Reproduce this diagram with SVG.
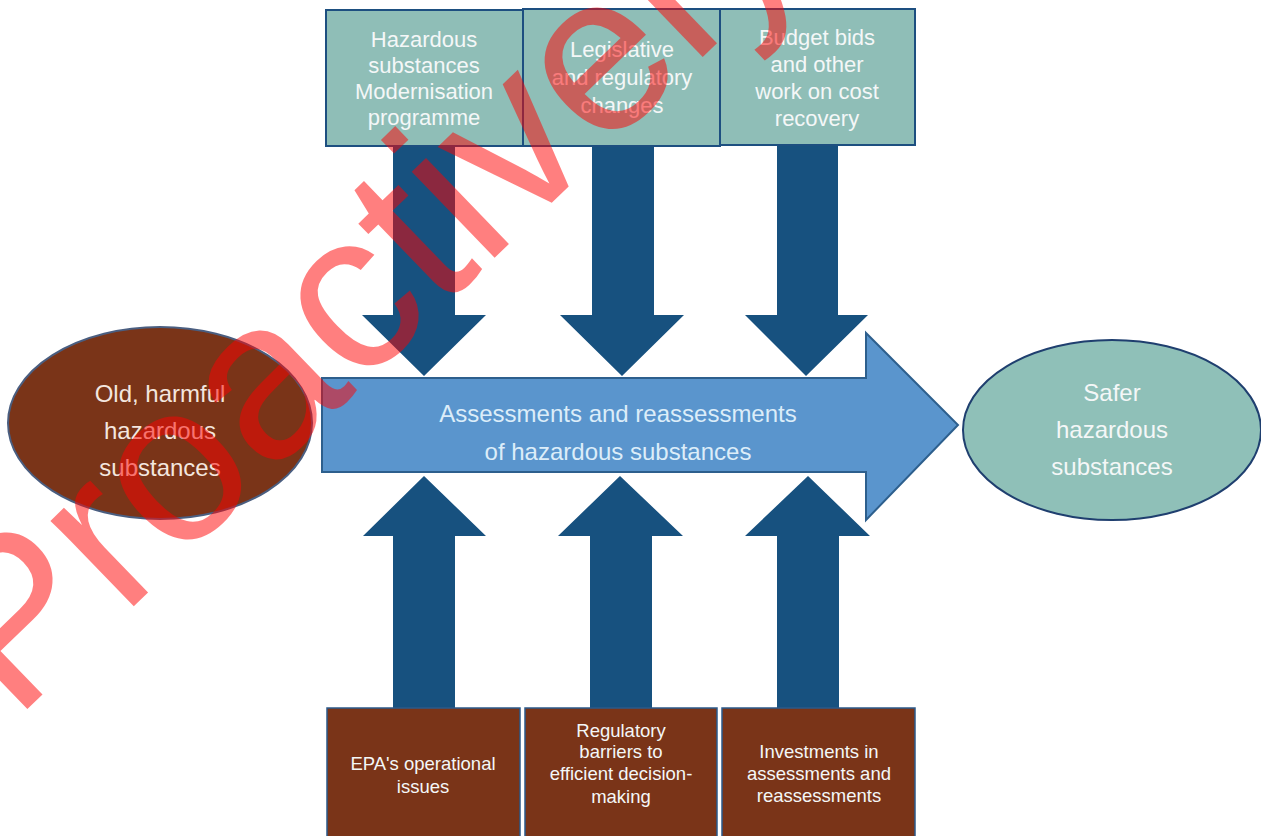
<svg xmlns="http://www.w3.org/2000/svg" width="1261" height="836" viewBox="0 0 1261 836">
<style>
.top{fill:#8fbeb7;stroke:#1d4f80;stroke-width:2}
.bot{fill:#7a3418;stroke:#2b5a8a;stroke-width:1.5}
.arr{fill:#17517f}
.t{font-family:"Liberation Sans",Arial,sans-serif;text-anchor:middle;fill:#f4f7f7}
.s22{font-size:22px}
.s24{font-size:24px}
.s19{font-size:18.5px}
.wm{font-family:"Liberation Sans",Arial,sans-serif;font-size:226px;fill:#ff0000;fill-opacity:0.5}
</style>
<rect width="1261" height="836" fill="#ffffff"/>
<g id="connectors">
<polygon class="arr" points="393,146 455,146 455,315 486,315 424,376 362,315 393,315"/>
<polygon class="arr" points="592,146 654,146 654,315 684,315 622,376 560,315 592,315"/>
<polygon class="arr" points="777,146 838,146 838,315 868,315 806,376 745,315 777,315"/>
<polygon class="arr" points="393,708 455,708 455,536 486,536 424,476 363,536 393,536"/>
<polygon class="arr" points="590,708 652,708 652,536 683,536 620,476 558,536 590,536"/>
<polygon class="arr" points="777,708 839,708 839,536 870,536 808,476 745,536 777,536"/>
</g>
<g id="top1">
<rect class="top" x="326" y="10" width="197" height="136"/>
<text class="t s22" x="424"><tspan x="424" y="47">Hazardous</tspan><tspan x="424" y="73">substances</tspan><tspan x="424" y="99">Modernisation</tspan><tspan x="424" y="125">programme</tspan></text>
</g>
<g id="top2">
<rect class="top" x="523" y="9" width="197" height="137"/>
<text class="t s22" x="622"><tspan x="622" y="57">Legislative</tspan><tspan x="622" y="85">and regulatory</tspan><tspan x="622" y="113">changes</tspan></text>
</g>
<g id="top3">
<rect class="top" x="720" y="9" width="195" height="136"/>
<text class="t s22" x="817"><tspan x="817" y="45">Budget bids</tspan><tspan x="817" y="72">and other</tspan><tspan x="817" y="99">work on cost</tspan><tspan x="817" y="126">recovery</tspan></text>
</g>
<g id="process">
<polygon points="322,378 866,378 866,333 958,425 866,520 866,472 322,472" fill="#5a95cd" stroke="#2d5f8d" stroke-width="2"/>
<text class="t s24" x="618" style="fill:#dcedf9"><tspan x="618" y="422">Assessments and reassessments</tspan><tspan x="618" y="460">of hazardous substances</tspan></text>
</g>
<g id="old">
<ellipse cx="160" cy="423" rx="152" ry="96" fill="#7a3418" stroke="#4a5e80" stroke-width="2"/>
<text class="t s24" x="160" style="fill:#f3e6df"><tspan x="160" y="402">Old, harmful</tspan><tspan x="160" y="439">hazardous</tspan><tspan x="160" y="476">substances</tspan></text>
</g>
<g id="safer">
<ellipse cx="1112" cy="430" rx="149" ry="90" fill="#8fc0b8" stroke="#1f3f6f" stroke-width="2"/>
<text class="t s24" x="1112"><tspan x="1112" y="401">Safer</tspan><tspan x="1112" y="438">hazardous</tspan><tspan x="1112" y="475">substances</tspan></text>
</g>
<g id="bot1">
<rect class="bot" x="327" y="708" width="193" height="130"/>
<text class="t s19" x="423"><tspan x="423" y="770">EPA's operational</tspan><tspan x="423" y="793">issues</tspan></text>
</g>
<g id="bot2">
<rect class="bot" x="525" y="708" width="192" height="130"/>
<text class="t s19" x="621"><tspan x="621" y="737">Regulatory</tspan><tspan x="621" y="758">barriers to</tspan><tspan x="621" y="780">efficient decision-</tspan><tspan x="621" y="803">making</tspan></text>
</g>
<g id="bot3">
<rect class="bot" x="722" y="708" width="193" height="130"/>
<text class="t s19" x="819"><tspan x="819" y="758">Investments in</tspan><tspan x="819" y="780">assessments and</tspan><tspan x="819" y="802">reassessments</tspan></text>
</g>
<text class="wm" x="14" y="722" transform="rotate(-44 14 722)">Proactively</text>
</svg>
